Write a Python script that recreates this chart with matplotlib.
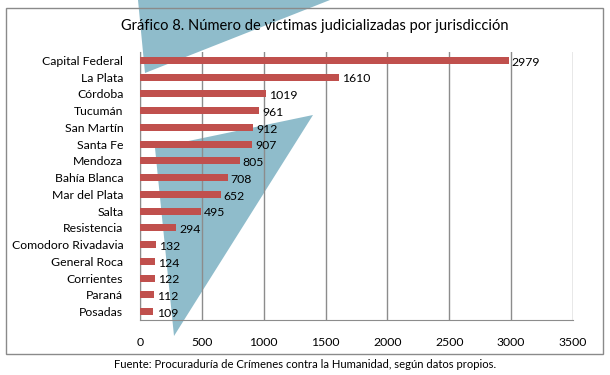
import matplotlib
matplotlib.use('Agg')
import matplotlib.pyplot as plt
from matplotlib.patches import Polygon, Rectangle

plt.rcParams['font.family'] = ['Lato', 'DejaVu Sans']

jurisdicciones = ['Capital Federal', 'La Plata', 'Córdoba', 'Tucumán', 'San Martín',
                  'Santa Fe', 'Mendoza', 'Bahía Blanca', 'Mar del Plata', 'Salta',
                  'Resistencia', 'Comodoro Rivadavia', 'General Roca', 'Corrientes',
                  'Paraná', 'Posadas']
victimas = [2979, 1610, 1019, 961, 912, 907, 805, 708, 652, 495, 294, 132, 124, 122, 112, 109]
xticks = [0, 500, 1000, 1500, 2000, 2500, 3000, 3500]

W, H = 610, 375
fig = plt.figure(figsize=(W / 100, H / 100), dpi=100)

def px(x, y):
    # pixel coords (top-left origin) -> figure fraction
    return (x / W, 1 - y / H)

# decorative blue shapes behind the chart
blue = '#8fbccb'
for tri in ([(138, 0), (330, 0), (145, 73)],
            [(155, 148), (313, 115), (174, 336)]):
    fig.patches.append(Polygon([px(*p) for p in tri], closed=True, transform=fig.transFigure,
                               facecolor=blue, edgecolor='none', zorder=0))

# outer frame
x0, y0 = px(6, 354)
fig.patches.append(Rectangle((x0, y0), 597 / W, 346 / H, transform=fig.transFigure,
                             facecolor='none', edgecolor='#8a8a8a', lw=1, zorder=1))

ax = fig.add_axes([140 / W, 1 - 320 / H, 433 / W, 268 / H])
ax.patch.set_alpha(0)
ax.set_zorder(2)

fs = 8.8
y = range(len(jurisdicciones))
ax.barh(y, victimas, height=0.42, color='#c0504d', zorder=3)
for yi, v in zip(y, victimas):
    ax.text(v + 25, yi + 0.1, str(v), va='center', ha='left', fontsize=fs, color='black', zorder=4)

ax.set_ylim(len(jurisdicciones) - 0.5, -0.5)
ax.set_yticks(list(y))
ax.set_yticklabels(jurisdicciones, fontsize=fs)
ax.set_xlim(0, 3500)
ax.set_xticks(xticks)
ax.set_xticklabels([str(t) for t in xticks], fontsize=fs)
ax.tick_params(axis='both', length=0)
ax.tick_params(axis='y', pad=12)
ax.tick_params(axis='x', pad=12)
ax.grid(axis='x', color='#8c8c8c', lw=1, zorder=1)
for s in ['top', 'right']:
    ax.spines[s].set_visible(False)
for s in ['left', 'bottom']:
    ax.spines[s].set_color('#8c8c8c')

fig.text(315 / W, 1 - 26 / H, 'Gráfico 8. Número de victimas judicializadas por jurisdicción',
         ha='center', va='center', fontsize=10.5)
fig.text(305 / W, 1 - 364 / H,
         'Fuente: Procuraduría de Crímenes contra la Humanidad, según datos propios.',
         ha='center', va='center', fontsize=8.1)

fig.savefig('out.png', dpi=100, facecolor='white')
